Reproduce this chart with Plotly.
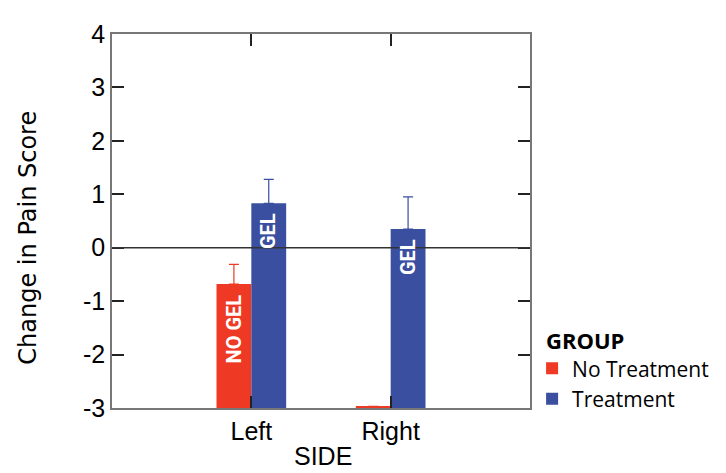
import plotly.graph_objects as go

sides = ["Left", "Right"]
groups = ["No Treatment", "Treatment"]
no_treatment = [-0.68, -2.97]
no_treatment_err = [0.37, 0.0]
treatment = [0.83, 0.35]
treatment_err = [0.45, 0.60]
bar_labels = {"No Treatment": ["NO GEL", ""], "Treatment": ["GEL", "GEL"]}
y_ticks = [-3, -2, -1, 0, 1, 2, 3, 4]
y_ticktext = ["-3", "-2", "-1", "0", "1", "2", "3", "4"]

BASE = -3
colors = {"No Treatment": "#EE3A25", "Treatment": "#3A4FA0"}

fig = go.Figure()
for name, vals, errs in [("No Treatment", no_treatment, no_treatment_err),
                         ("Treatment", treatment, treatment_err)]:
    fig.add_trace(go.Bar(
        x=sides, y=[v - BASE for v in vals], base=BASE, name=name,
        marker=dict(color=colors[name], line=dict(width=0)),
        error_y=dict(type="data", array=errs, arrayminus=[0] * len(errs), symmetric=False,
                     color=colors[name], thickness=1.2, width=5, visible=True),
        width=0.25,
    ))

# labels inside bars
offsets = {"No Treatment": -0.125, "Treatment": 0.125}
for name, vals in [("No Treatment", no_treatment), ("Treatment", treatment)]:
    for i, v in enumerate(vals):
        lab = bar_labels[name][i]
        if not lab:
            continue
        fig.add_annotation(
            x=i + offsets[name], y=v, xref="x", yref="y", text="<b>" + lab + "</b>",
            textangle=-90, showarrow=False, yanchor="top", xanchor="center", yshift=-8,
            font=dict(family="Roboto", size=20, color="white"),
        )

fig.add_shape(type="line", xref="paper", yref="y", x0=0, x1=1, y0=0, y1=0,
              line=dict(color="#333333", width=1.5), layer="above")

# axis titles and legend title as annotations
fig.add_annotation(text="Change in Pain Score", xref="paper", yref="paper",
                   x=-0.2005, y=0.456, xanchor="center", yanchor="middle", textangle=-90,
                   showarrow=False, font=dict(family="DejaVu Sans", size=24, color="black"))
fig.add_annotation(text="SIDE", xref="paper", yref="paper",
                   x=0.5036, y=-0.1295, xanchor="center", yanchor="middle",
                   showarrow=False, font=dict(family="Liberation Sans", size=25, color="black"))
fig.add_annotation(text="<b>GROUP</b>", xref="paper", yref="paper",
                   x=1.0334, y=0.181, xanchor="left", yanchor="middle",
                   showarrow=False, font=dict(family="Open Sans", size=22, color="black"))

fig.update_layout(
    width=718, height=465,
    margin=dict(l=104, r=195, t=14, b=65),
    plot_bgcolor="white", paper_bgcolor="white",
    barmode="group", bargap=0.5,
    showlegend=True,
    legend=dict(
        font=dict(family="Open Sans", size=21, color="black"),
        x=1.005, xanchor="left", y=-0.03, yanchor="bottom",
        bgcolor="rgba(0,0,0,0)", itemwidth=30, tracegroupgap=0,
    ),
    xaxis=dict(
        type="category", categoryorder="array", categoryarray=sides,
        range=[-1, 2],
        showline=True, linecolor="#777777", linewidth=1.5, mirror="ticks",
        ticks="inside", ticklen=12, tickcolor="#222222", tickwidth=1.5,
        tickfont=dict(family="Liberation Sans", size=25, color="black"),
        showgrid=False, zeroline=False,
    ),
    yaxis=dict(
        range=[-3, 4], tickvals=y_ticks, ticktext=y_ticktext,
        showline=True, linecolor="#777777", linewidth=1.5, mirror="ticks",
        ticks="inside", ticklen=12, tickcolor="#222222", tickwidth=1.5,
        tickfont=dict(family="Liberation Sans", size=25, color="black"),
        ticklabeloverflow="allow",
        showgrid=False, zeroline=False,
    ),
)

fig.write_html("out.html")
